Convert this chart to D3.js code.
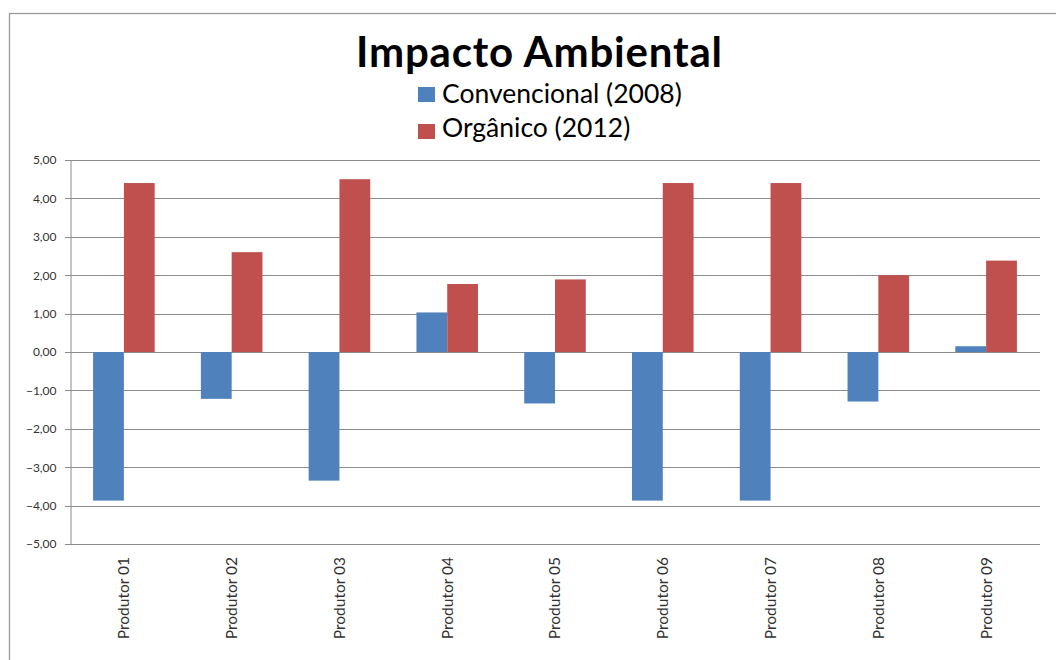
<!DOCTYPE html>
<html>
<head>
<meta charset="utf-8">
<script src="https://cdn.jsdelivr.net/npm/d3@7"></script>
<style>
  html, body { margin: 0; padding: 0; background: #fff; }
  svg { display: block; }
  text { font-family: Lato, "Open Sans", sans-serif; }
</style>
</head>
<body>
<script>
// Produtores avaliados
const categories = ["Produtor 01", "Produtor 02", "Produtor 03", "Produtor 04", "Produtor 05",
                    "Produtor 06", "Produtor 07", "Produtor 08", "Produtor 09"];
const seriesNames = ["Convencional (2008)", "Orgânico (2012)"];
const convencional = [-3.87, -1.22, -3.35, 1.03, -1.34, -3.87, -3.87, -1.29, 0.15];
const organico = [4.40, 2.60, 4.50, 1.77, 1.89, 4.40, 4.40, 2.00, 2.38];
const yTicks = [5, 4, 3, 2, 1, 0, -1, -2, -3, -4, -5];
const seriesColors = ["#4F81BD", "#C0504D"];

const W = 1056, H = 660;
const margin = { left: 70, right: 16, top: 160, bottom: 116 };

const svg = d3.select("body").append("svg").attr("width", W).attr("height", H);

// moldura do gráfico
svg.append("rect")
  .attr("x", 9.5).attr("y", 13.5)
  .attr("width", W).attr("height", H)
  .attr("fill", "#fff").attr("stroke", "#9a9a9a").attr("stroke-width", 1.3);

const x0 = d3.scaleBand().domain(categories)
  .range([margin.left, W - margin.right]).paddingInner(0).paddingOuter(0);
const x1 = d3.scaleBand().domain(seriesNames)
  .range([0, x0.bandwidth()]).paddingInner(0).paddingOuter(0.75);
const y = d3.scaleLinear().domain([-5, 5]).range([H - margin.bottom, margin.top]);

// linhas de grade
svg.append("g").selectAll("line").data(yTicks).join("line")
  .attr("x1", margin.left - 5).attr("x2", W - margin.right)
  .attr("y1", d => Math.round(y(d)) + 0.5).attr("y2", d => Math.round(y(d)) + 0.5)
  .attr("stroke", "#8c8c8c").attr("stroke-width", 1);

// eixo vertical
const yAxis = d3.axisLeft(y).tickValues(yTicks).tickSize(0).tickPadding(14)
  .tickFormat(d => d3.format(".2f")(d).replace(".", ","));
const gy = svg.append("g").attr("transform", `translate(${margin.left + 0.5},0)`).call(yAxis);
gy.select(".domain").attr("stroke", "#8c8c8c");
gy.selectAll("text").attr("font-size", 12).attr("fill", "#333")
  .style("font-family", "Lato, sans-serif");

// barras
const data = categories.map((c, i) => ({ cat: c, vals: [convencional[i], organico[i]] }));
const groups = svg.append("g").selectAll("g").data(data).join("g")
  .attr("transform", d => `translate(${x0(d.cat)},0)`);
groups.selectAll("rect").data(d => d.vals.map((v, k) => ({ v, s: seriesNames[k], k })))
  .join("rect")
  .attr("x", d => x1(d.s))
  .attr("width", x1.bandwidth())
  .attr("y", d => y(Math.max(0, d.v)))
  .attr("height", d => Math.abs(y(d.v) - y(0)))
  .attr("fill", d => seriesColors[d.k]);

// rótulos das categorias
const xAxis = d3.axisBottom(x0).tickSize(0).tickPadding(0);
const gx = svg.append("g").attr("transform", `translate(0,${y(-5)})`).call(xAxis);
gx.select(".domain").remove();
gx.selectAll("text")
  .attr("transform", "rotate(-90)")
  .attr("x", -13).attr("y", 0).attr("dy", "0.35em")
  .attr("text-anchor", "end")
  .attr("font-size", 15.5).attr("fill", "#333")
  .style("font-family", "Lato, sans-serif");

// título
svg.append("text")
  .attr("x", 539).attr("y", 67)
  .attr("text-anchor", "middle")
  .attr("font-size", 42).attr("font-weight", "bold").attr("fill", "#000")
  .attr("textLength", 366).attr("lengthAdjust", "spacing")
  .text("Impacto Ambiental");

// legenda
const legendRows = [{ box: 87, base: 103 }, { box: 124, base: 137 }];
const legend = svg.append("g").selectAll("g").data(seriesNames).join("g");
legend.append("rect").attr("x", 418).attr("y", (d, i) => legendRows[i].box)
  .attr("width", 17).attr("height", 15)
  .attr("fill", (d, i) => seriesColors[i]);
legend.append("text").attr("x", 442).attr("y", (d, i) => legendRows[i].base)
  .attr("font-size", 26.5).attr("fill", "#000")
  .text(d => d);
</script>
</body>
</html>
